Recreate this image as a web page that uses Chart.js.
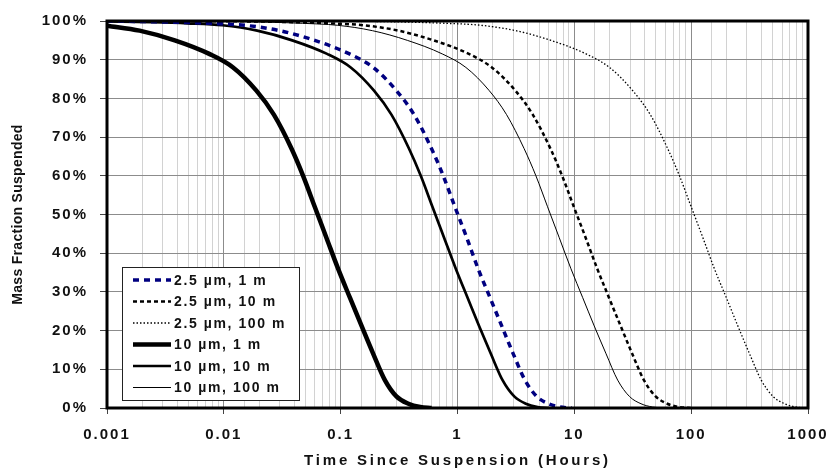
<!DOCTYPE html>
<html>
<head>
<meta charset="utf-8">
<script src="https://cdn.jsdelivr.net/npm/chart.js@4/dist/chart.umd.min.js"></script>
<style>
  body { margin: 0; background: #fff; }
  canvas { display: block; }
</style>
</head>
<body>
<canvas id="chart" width="828" height="471"></canvas>
<script>
// values (time in hours, % suspended)
const xTickLabels = ['0.001', '0.01', '0.1', '1', '10', '100', '1000'];

const t25_1 = [0.001, 0.0038, 0.0076, 0.015, 0.030, 0.06, 0.119, 0.19, 0.30, 0.425, 0.60, 0.755, 0.95, 1.2, 1.5, 1.9, 2.39, 3.0, 3.78, 4.76, 6.0, 7.5, 9.5];
const f25_1 = [100, 99.7, 99.4, 98.9, 97.5, 95.0, 91.5, 88, 82, 75.8, 67, 60, 52, 44, 36, 28.5, 21.2, 14, 7.2, 3.0, 1.1, 0.25, 0];

const t25_10 = [0.001, 0.0157, 0.039, 0.079, 0.157, 0.313, 0.625, 1.25, 1.97, 3.13, 4.41, 6.25, 7.86, 9.9, 12.5, 15.7, 19.8, 24.9, 31.3, 39.4, 49.6, 62.5, 78.6, 99];
const f25_10 = [100, 99.9, 99.7, 99.4, 98.9, 97.5, 95.0, 91.5, 88, 82, 75.8, 67, 60, 52, 44, 36, 28.5, 21.2, 14, 7.2, 3.0, 1.1, 0.25, 0];

const t25_100 = [0.001, 0.16, 0.4, 0.79, 1.58, 3.16, 6.3, 12.6, 20, 31.6, 44.7, 63, 79.4, 100, 126, 158, 200, 251, 316, 398, 501, 631, 794, 1000];
const f25_100 = [100, 99.9, 99.7, 99.4, 98.9, 97.5, 95.0, 91.5, 88, 82, 75.8, 67, 60, 52, 44, 36, 28.5, 21.2, 14, 7.2, 3.0, 1.1, 0.25, 0];

const t10_1 = [0.001, 0.0019, 0.0038, 0.0075, 0.012, 0.019, 0.0268, 0.038, 0.0477, 0.06, 0.0755, 0.095, 0.12, 0.151, 0.19, 0.239, 0.30, 0.38, 0.48, 0.6];
const f10_1 = [98.8, 97.5, 95.0, 91.5, 88, 82, 75.8, 67, 60, 52, 44, 36, 28.5, 21.2, 14, 7.2, 3.0, 1.1, 0.25, 0];

const t10_10 = [0.001, 0.0024, 0.0049, 0.0097, 0.0193, 0.0385, 0.0765, 0.122, 0.193, 0.272, 0.385, 0.485, 0.61, 0.768, 0.967, 1.22, 1.53, 1.93, 2.43, 3.06, 3.85, 4.85, 6.1];
const f10_10 = [99.9, 99.7, 99.4, 98.9, 97.5, 95.0, 91.5, 88, 82, 75.8, 67, 60, 52, 44, 36, 28.5, 21.2, 14, 7.2, 3.0, 1.1, 0.25, 0];

const t10_100 = [0.001, 0.0094, 0.0235, 0.047, 0.0935, 0.187, 0.372, 0.74, 1.18, 1.87, 2.63, 3.72, 4.69, 5.9, 7.43, 9.35, 11.8, 14.8, 18.7, 23.5, 29.6, 37.2, 46.8, 59];
const f10_100 = [100, 99.9, 99.7, 99.4, 98.9, 97.5, 95.0, 91.5, 88, 82, 75.8, 67, 60, 52, 44, 36, 28.5, 21.2, 14, 7.2, 3.0, 1.1, 0.25, 0];

const pts = (t, f) => t.map((x, i) => ({ x: x, y: f[i] }));

function isDecade(v) {
    const e = Math.log10(v);
    return Math.abs(e - Math.round(e)) < 1e-9;
}

const FONT = 'Liberation Sans, Arial, sans-serif';

// draws the boxed legend inside the plot, lower left
const boxLegend = {
    id: 'boxLegend',
    afterDraw(chart) {
        const ctx = chart.ctx;
        const a = chart.chartArea;
        const x = a.left + 15, w = 177, h = 133;
        const y = a.bottom - 8 - h;
        ctx.save();
        ctx.fillStyle = '#fff';
        ctx.fillRect(x, y, w, h);
        ctx.lineWidth = 1;
        ctx.strokeStyle = '#222';
        ctx.strokeRect(x + 0.5, y + 0.5, w, h);
        ctx.font = 'bold 14px ' + FONT;
        ctx.letterSpacing = '1.6px';
        ctx.textBaseline = 'middle';
        ctx.fillStyle = '#111';
        chart.data.datasets.forEach((ds, i) => {
            const ry = y + 13 + i * 21.5;
            ctx.beginPath();
            ctx.setLineDash(ds.borderDash || []);
            ctx.lineWidth = ds.borderWidth;
            ctx.strokeStyle = ds.borderColor;
            ctx.moveTo(x + 11, ry);
            ctx.lineTo(x + 49, ry);
            ctx.stroke();
            ctx.setLineDash([]);
            ctx.fillText(ds.label, x + 52, ry + 1);
        });
        ctx.restore();
    }
};

// thick frame round the plot area + letter spacing for texts
const frame = {
    id: 'frame',
    beforeDraw(chart) {
        chart.ctx.letterSpacing = '2px';
        [['x', '2.8px'], ['y', '0.3px']].forEach(([id, sp]) => {
            const s = chart.scales[id];
            if (s && !s._spaced) {
                const orig = s.drawTitle;
                s.drawTitle = function () {
                    this.ctx.save();
                    this.ctx.letterSpacing = sp;
                    orig.apply(this, arguments);
                    this.ctx.restore();
                };
                s._spaced = true;
            }
        });
    },
    afterDatasetsDraw(chart) {
        const a = chart.chartArea;
        const ctx = chart.ctx;
        ctx.save();
        ctx.lineWidth = 3;
        ctx.strokeStyle = '#000';
        ctx.strokeRect(a.left, a.top, a.right - a.left, a.bottom - a.top);
        ctx.restore();
    }
};

new Chart(document.getElementById('chart').getContext('2d'), {
    type: 'line',
    data: {
        datasets: [
            { label: '2.5 µm, 1 m', data: pts(t25_1, f25_1), borderColor: '#000080', borderWidth: 3.5, borderDash: [6, 5] },
            { label: '2.5 µm, 10 m', data: pts(t25_10, f25_10), borderColor: '#000', borderWidth: 2.5, borderDash: [4, 3] },
            { label: '2.5 µm, 100 m', data: pts(t25_100, f25_100), borderColor: '#000', borderWidth: 1.3, borderDash: [1.5, 2] },
            { label: '10 µm, 1 m', data: pts(t10_1, f10_1), borderColor: '#000', borderWidth: 4.5 },
            { label: '10 µm, 10 m', data: pts(t10_10, f10_10), borderColor: '#000', borderWidth: 2.7 },
            { label: '10 µm, 100 m', data: pts(t10_100, f10_100), borderColor: '#000', borderWidth: 1 }
        ]
    },
    options: {
        responsive: false,
        animation: false,
        layout: { padding: { top: 21, right: 20, left: 0, bottom: 0 } },
        elements: {
            point: { radius: 0 },
            line: { cubicInterpolationMode: 'monotone', fill: false }
        },
        plugins: { legend: { display: false }, tooltip: { enabled: false } },
        scales: {
            x: {
                type: 'logarithmic',
                min: 0.001,
                max: 1000,
                afterFit(s) { s.height = 63; s.paddingLeft = 0; s.paddingRight = 0; },
                border: { display: false },
                grid: {
                    color: c => isDecade(c.tick.value) ? '#8c8c8c' : '#d2d2d2',
                    tickColor: c => isDecade(c.tick.value) ? '#444' : 'rgba(0,0,0,0)',
                    tickLength: 6,
                    lineWidth: 1
                },
                ticks: {
                    autoSkip: false,
                    maxRotation: 0,
                    padding: 12,
                    color: '#111',
                    font: { family: FONT, size: 15, weight: 'bold' },
                    callback: v => isDecade(v) ? xTickLabels[Math.round(Math.log10(v)) + 3] : ''
                },
                title: {
                    display: true,
                    text: 'Time Since Suspension (Hours)',
                    color: '#111',
                    padding: { top: 0, bottom: 1 },
                    font: { family: FONT, size: 15, weight: 'bold' }
                }
            },
            y: {
                min: 0,
                max: 100,
                afterFit(s) { s.width = 107; s.paddingTop = 0; s.paddingBottom = 0; },
                border: { display: false },
                grid: { color: '#8c8c8c', tickColor: '#444', tickLength: 7, lineWidth: 1 },
                ticks: {
                    stepSize: 10,
                    padding: 12,
                    color: '#111',
                    font: { family: FONT, size: 15, weight: 'bold' },
                    callback: v => v + '%'
                },
                title: {
                    display: true,
                    text: 'Mass Fraction Suspended',
                    color: '#111',
                    padding: { top: 10, bottom: 0 },
                    font: { family: FONT, size: 14, weight: 'bold' }
                }
            }
        }
    },
    plugins: [frame, boxLegend]
});
</script>
</body>
</html>
